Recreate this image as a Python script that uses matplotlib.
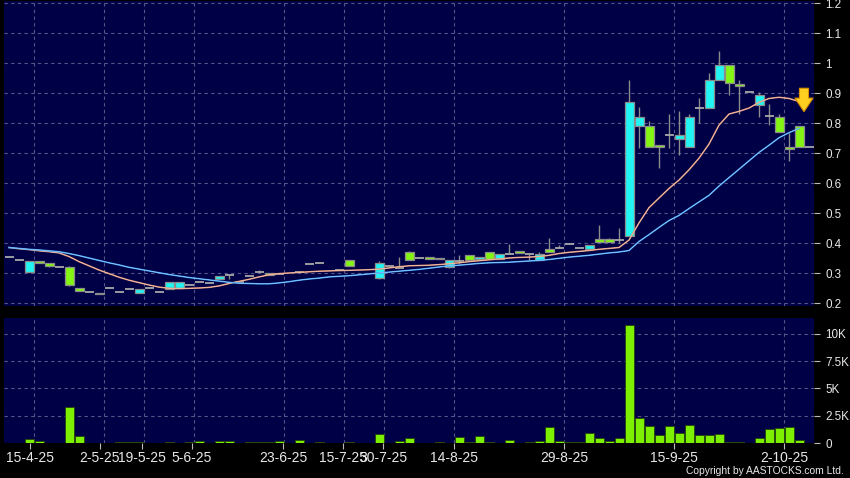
import matplotlib
matplotlib.use("Agg")
import matplotlib.pyplot as plt
import numpy as np

# daily OHLC per trading slot (None = no candle drawn)
opens = [0.355, 0.343, 0.304, 0.341, 0.334, 0.32, 0.32, 0.25, 0.236, 0.229,
         0.25, 0.236, 0.246, 0.233, 0.25, 0.238, 0.246, 0.25, 0.261, 0.27,
         0.266, 0.279, 0.292, 0.27, 0.289, 0.304, 0.30, 0.298, None, 0.302,
         0.331, 0.334, None, 0.311, 0.345, None, None, 0.283, 0.325, 0.317,
         0.371, 0.351, 0.354, 0.351, 0.321, 0.34, 0.36, 0.346, 0.371, 0.346,
         0.365, 0.375, 0.362, 0.344, 0.381, 0.385, 0.396, 0.385, 0.381, 0.413,
         0.413, 0.409, 0.424, 0.79, 0.79, 0.728, 0.76, 0.748, 0.719, 0.85,
         0.85, 0.942, 0.993, 0.931, 0.903, 0.861, 0.822, 0.821, 0.719, 0.79, 0.719]
highs = [0.355, 0.343, 0.34, 0.341, 0.334, 0.32, 0.322, 0.25, 0.236, 0.234,
         0.25, 0.236, 0.246, 0.248, 0.25, 0.238, 0.27, 0.27, 0.261, 0.27,
         0.266, 0.29, 0.292, 0.27, 0.289, 0.31, 0.30, 0.298, None, 0.302,
         0.331, 0.334, None, 0.311, 0.345, None, None, 0.34, 0.325, 0.354,
         0.375, 0.351, 0.354, 0.351, 0.343, 0.36, 0.36, 0.354, 0.371, 0.363,
         0.396, 0.375, 0.362, 0.37, 0.418, 0.393, 0.40, 0.385, 0.394, 0.46,
         0.418, 0.449, 0.942, 0.852, 0.807, 0.728, 0.83, 0.841, 0.83, 0.882,
         0.967, 1.041, 0.993, 0.942, 0.903, 0.903, 0.863, 0.83, 0.768, 0.79, 0.719]
lows = [0.355, 0.343, 0.302, 0.334, 0.32, 0.32, 0.258, 0.24, 0.236, 0.229,
        0.25, 0.236, 0.246, 0.233, 0.25, 0.238, 0.246, 0.25, 0.261, 0.27,
        0.266, 0.279, 0.28, 0.27, 0.289, 0.304, 0.295, 0.298, None, 0.302,
        0.331, 0.334, None, 0.311, 0.323, None, None, 0.28, 0.325, 0.317,
        0.345, 0.351, 0.348, 0.346, 0.318, 0.33, 0.343, 0.346, 0.346, 0.346,
        0.365, 0.366, 0.345, 0.344, 0.371, 0.385, 0.396, 0.385, 0.381, 0.403,
        0.403, 0.399, 0.424, 0.717, 0.719, 0.649, 0.717, 0.692, 0.719, 0.801,
        0.85, 0.942, 0.892, 0.83, 0.903, 0.821, 0.793, 0.77, 0.673, 0.719, 0.719]
closes = [0.355, 0.343, 0.34, 0.334, 0.323, 0.32, 0.261, 0.24, 0.236, 0.234,
          0.25, 0.236, 0.246, 0.248, 0.25, 0.238, 0.27, 0.27, 0.261, 0.27,
          0.266, 0.29, 0.292, 0.27, 0.289, 0.304, 0.295, 0.298, None, 0.302,
          0.331, 0.334, None, 0.311, 0.323, None, None, 0.334, 0.325, 0.317,
          0.345, 0.351, 0.348, 0.346, 0.343, 0.34, 0.343, 0.354, 0.346, 0.363,
          0.365, 0.366, 0.362, 0.363, 0.371, 0.385, 0.396, 0.385, 0.394, 0.403,
          0.403, 0.409, 0.871, 0.821, 0.719, 0.719, 0.76, 0.76, 0.821, 0.85,
          0.942, 0.993, 0.933, 0.922, 0.903, 0.892, 0.822, 0.77, 0.712, 0.719, 0.719]

# volume in thousands
volume = [0, 0, 0.37, 0.21, 0.04, 0.04, 3.3, 0.64, 0.03, 0.03,
          0, 0.06, 0.06, 0.06, 0.02, 0, 0.12, 0, 0.06, 0.21,
          0, 0.15, 0.15, 0.03, 0.1, 0.1, 0.12, 0.15, 0, 0.3,
          0, 0.1, 0, 0, 0.05, 0, 0, 0.8, 0, 0.21,
          0.43, 0.03, 0.02, 0.05, 0.02, 0.55, 0.12, 0.67, 0.12, 0,
          0.3, 0, 0.1, 0.15, 1.46, 0.15, 0.06, 0.12, 0.88, 0.49,
          0.15, 0.46, 10.8, 2.29, 1.52, 0.7, 1.55, 0.88, 1.65, 0.7,
          0.7, 0.82, 0.05, 0.05, 0.03, 0.46, 1.31, 1.4, 1.46, 0.3, 0]

# moving averages
ma_short = [0.385, 0.381, 0.378, 0.374, 0.371, 0.367, 0.355, 0.338, 0.324, 0.310,
            0.298, 0.286, 0.276, 0.268, 0.260, 0.253, 0.249, 0.248, 0.249, 0.250,
            0.252, 0.257, 0.265, 0.272, 0.279, 0.287, 0.294, 0.298, 0.300, 0.302,
            0.304, 0.306, 0.307, 0.308, 0.309, 0.310, 0.311, 0.313, 0.317, 0.321,
            0.324, 0.325, 0.326, 0.328, 0.331, 0.334, 0.338, 0.341, 0.344, 0.347,
            0.350, 0.352, 0.353, 0.355, 0.359, 0.365, 0.369, 0.372, 0.375, 0.379,
            0.382, 0.385, 0.410, 0.467, 0.518, 0.550, 0.582, 0.610, 0.644, 0.683,
            0.730, 0.793, 0.830, 0.839, 0.850, 0.869, 0.882, 0.886, 0.882, 0.872]
ma_long = [0.385, 0.382, 0.379, 0.377, 0.374, 0.371, 0.365, 0.358, 0.350, 0.342,
           0.334, 0.327, 0.319, 0.313, 0.307, 0.301, 0.295, 0.290, 0.285, 0.281,
           0.277, 0.273, 0.269, 0.266, 0.265, 0.264, 0.264, 0.267, 0.271, 0.276,
           0.280, 0.283, 0.287, 0.289, 0.291, 0.294, 0.297, 0.300, 0.303, 0.306,
           0.309, 0.312, 0.316, 0.320, 0.324, 0.326, 0.329, 0.332, 0.334, 0.335,
           0.336, 0.338, 0.340, 0.342, 0.345, 0.349, 0.353, 0.356, 0.359, 0.363,
           0.367, 0.370, 0.375, 0.405, 0.428, 0.452, 0.475, 0.492, 0.515, 0.537,
           0.559, 0.590, 0.618, 0.646, 0.674, 0.702, 0.726, 0.751, 0.768, 0.782]

date_labels = ["15-4-25", "2-5-25", "19-5-25", "5-6-25", "23-6-25", "15-7-25",
               "30-7-25", "14-8-25", "29-8-25", "15-9-25", "2-10-25"]
tick_pos = [2.1, 9.1, 13.3, 18.3, 27.4, 33.4, 37.4, 44.5, 55.5, 66.5, 77.5]
grid_pos = [2.5, 9.5, 13.5, 18.5, 27.5, 33.5, 37.5, 44.5, 55.5, 66.5, 77.5]
price_ticks = [0.2, 0.3, 0.4, 0.5, 0.6, 0.7, 0.8, 0.9, 1.0, 1.1, 1.2]
vol_ticks = [0, 2.5, 5, 7.5, 10]
vol_labels = ["0", "2.5K", "5K", "7.5K", "10K"]

plt.rcParams["font.family"] = ["Liberation Sans", "DejaVu Sans"]

NAVY = "#000046"
GRID = "#55558a"
TXT = "#e8e8e8"
UP = "#22f4f4"
DOWN = "#84f414"
EDGE = "#8c8c8c"

fig = plt.figure(figsize=(8.5, 4.78), dpi=100, facecolor="black")
ax = fig.add_axes([4 / 850, 172 / 478, 810 / 850, 305 / 478], facecolor=NAVY)
axv = fig.add_axes([4 / 850, 35 / 478, 810 / 850, 125 / 478], facecolor=NAVY)

x = np.arange(len(opens))
w = 0.9
for i, (o, h, l, c) in enumerate(zip(opens, highs, lows, closes)):
    if o is None:
        continue
    if h > l:
        ax.vlines(i, l, h, color=EDGE, lw=1, zorder=3)
    if o == c:
        ax.hlines(o, i - w / 2, i + w / 2, color="#a8a8a8", lw=1.3, zorder=4)
    else:
        ax.bar(i, abs(c - o), bottom=min(o, c), width=w,
               color=UP if c > o else DOWN, edgecolor=EDGE, lw=0.9, zorder=4)

ma_x = np.arange(len(ma_short))
ax.plot(ma_x, ma_short, color="#dc8e6c", lw=1.1, zorder=5)
ax.plot(ma_x, ma_short, color="#f6d2c0", lw=0.4, zorder=5)
ax.plot(ma_x, ma_long, color="#3c9cf0", lw=1.1, zorder=5)
ax.plot(ma_x, ma_long, color="#a8d8ff", lw=0.4, zorder=5)

# down arrow beside the last candle
last = len(ma_short) - 1
ax.annotate("", xy=(last + 0.5, 0.838), xytext=(last + 0.5, 0.916),
            arrowprops=dict(arrowstyle="simple,head_length=0.75,head_width=1.0,tail_width=0.5",
                            mutation_scale=13, fc="#ffd020", ec="#d89000", lw=0.8,
                            shrinkA=0, shrinkB=0), zorder=6)

axv.bar(x, volume, width=w, color="#7cf000", edgecolor="#2a4a10", lw=0.7, zorder=3)

for a in (ax, axv):
    a.set_xlim(-0.5, len(opens) - 0.5)
    for s in a.spines.values():
        s.set_visible(False)
    for g in grid_pos:
        a.axvline(g, color=GRID, lw=0.8, ls=(0, (3, 3)), zorder=1)
    a.yaxis.tick_right()
    a.tick_params(axis="y", labelcolor=TXT, color="#bbbbbb", length=4, width=0.8,
                  pad=4, labelsize=8.4)

ax.set_ylim(0.19, 1.207)
ax.set_yticks(price_ticks)
ax.set_yticklabels([f"{v:g}" for v in price_ticks])
for v in price_ticks:
    ax.axhline(v, color=GRID, lw=0.8, ls=(0, (3, 3)), zorder=1)
ax.set_xticks([])

axv.set_ylim(0, 11.45)
axv.set_yticks(vol_ticks)
axv.set_yticklabels(vol_labels)
for v in vol_ticks[1:]:
    axv.axhline(v, color=GRID, lw=0.8, ls=(0, (3, 3)), zorder=1)
axv.set_xticks(tick_pos)
axv.set_xticklabels(date_labels)
axv.tick_params(axis="x", labelcolor=TXT, color="#bbbbbb", length=4, width=0.8,
                pad=2, labelsize=10)

fig.text(0.993, 0.004, "Copyright by AASTOCKS.com Ltd.", color=TXT,
         fontsize=7.4, ha="right", va="bottom")

fig.savefig("out.png", dpi=100, facecolor="black")
